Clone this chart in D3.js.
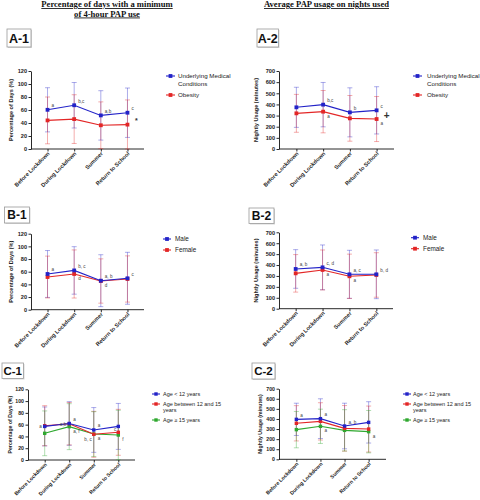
<!DOCTYPE html>
<html><head><meta charset="utf-8">
<script src="https://cdn.jsdelivr.net/npm/d3@7"></script>
<style>body{margin:0;background:#fff}svg{display:block}</style>
</head><body>
<svg id="chart" width="480" height="500"></svg>
<script>
// ---------- DATA ----------
const categories = ["Before Lockdown", "During Lockdown", "Summer", "Return to School"];
const pctTicks = [0, 20, 40, 60, 80, 100, 120];
const minTicks = [0, 100, 200, 300, 400, 500, 600, 700];

// A-1 (% days >= 4h)
const a1Medical = [60.3, 67.3, 51.7, 55.8];
const a1MedicalSD = [34, 35, 38, 38];
const a1Obesity = [44, 46, 36.5, 37.5];
const a1ObesitySD = [36, 37.5, 36, 38];
// A-2 (minutes)
const a2Medical = [374, 398, 329, 347];
const a2MedicalSD = [180, 199, 220, 212];
const a2Obesity = [320, 335, 275, 269];
const a2ObesitySD = [170, 190, 205, 202];
// B-1
const b1Male = [56.4, 62, 45.8, 49.6];
const b1MaleSD = [37, 37.5, 41, 41];
const b1Female = [51.6, 56.4, 45.3, 48.5];
const b1FemaleSD = [33, 38, 35, 36.5];
// B-2
const b2Male = [364, 379, 315, 315];
const b2MaleSD = [177, 205, 220, 223];
const b2Female = [324, 355, 297, 309];
const b2FemaleSD = [172, 183, 203, 204];
// C-1
const c1Under12 = [57, 62, 51, 57];
const c1Under12SD = [33, 37, 38, 39];
const c1Age12to15 = [58.2, 61.6, 43.6, 47];
const c1Age12to15SD = [34, 36, 39, 39];
const c1Over15 = [45.3, 56.6, 44, 42.4];
const c1Over15SD = [38, 39, 38, 42];
// C-2
const c2Under12 = [396, 403, 330, 366];
const c2Under12SD = [160, 197, 226, 205];
const c2Age12to15 = [357, 376, 307, 300];
const c2Age12to15SD = [175, 185, 226, 228];
const c2Over15 = [294, 327, 287, 274];
const c2Over15SD = [180, 170, 205, 210];

// significance letters: [series index, category index, text, placement]
const a1Notes = [[0,0,"a","up"],[0,1,"b,c","up"],[0,2,"a,b","up"],[0,3,"c","up"]];
const a2Notes = [[0,1,"b,c","up"],[1,1,"a","down"],[0,2,"b","up"],[0,3,"c","up"],[1,3,"a","down"]];
const b1Notes = [[0,0,"a","up"],[0,1,"b, c","up"],[1,1,"d","down"],[0,2,"a, b","up"],[1,2,"d","down"],[0,3,"c","up"]];
const b2Notes = [[0,0,"a, b","up"],[0,1,"c, d","up"],[1,1,"a","down"],[0,2,"a, c","up"],[1,2,"a","down"],[0,3,"b, d","up"]];
const c1Notes = [[1,0,"a","left"],[1,1,"a","up"],[1,1,"a,b","left"],[2,1,"a, f","down"],[0,2,"a","up"],[2,2,"b, c","leftdown"],[2,2,"a","down"],[1,3,"c","leftup"],[2,3,"f","down"]];
const c2Notes = [[0,0,"a","up"],[0,1,"a","up"],[2,1,"a","down"],[0,2,"a, b","up"],[2,3,"a","down"]];

const titleLeft = ["Percentage of days with a minimum", "of 4-hour PAP use"];
const titleRight = ["Average PAP usage on nights used"];

// ---------- DRAW ----------
const svg = d3.select("#chart");
const BLUE = "#2323c8", RED = "#e32626", GREEN = "#2fa82f";
const FONT = "Liberation Sans, Arial, sans-serif";

function title(lines, cx) {
  lines.forEach((t, i) => {
    svg.append("text").attr("x", cx).attr("y", 7 + i * 9.5)
      .attr("text-anchor", "middle")
      .attr("font-family", "Liberation Serif, Times New Roman, serif")
      .attr("font-weight", "bold").attr("font-size", 8.6)
      .attr("text-decoration", "underline").attr("fill", "#111").text(t);
  });
}
title(titleLeft, 107);
title(titleRight, 326.5);

function labelBox(txt, x, y, w, h, fs) {
  svg.append("rect").attr("x", x + 1).attr("y", y + 1).attr("width", w).attr("height", h)
    .attr("fill", "#d8d8d8");
  svg.append("rect").attr("x", x).attr("y", y).attr("width", w).attr("height", h)
    .attr("fill", "#fff").attr("stroke", "#9a9a9a").attr("stroke-width", 0.8);
  svg.append("text").attr("x", x + w / 2).attr("y", y + h / 2 + fs * 0.36)
    .attr("text-anchor", "middle").attr("font-family", FONT).attr("font-weight", "bold")
    .attr("font-size", fs).attr("fill", "#111").text(txt);
}

function panel(cfg) {
  const g = svg.append("g");
  const x = d3.scalePoint().domain(categories).range([cfg.x0, cfg.x1]).padding(cfg.pad);
  const y = d3.scaleLinear().domain([0, cfg.ymax]).range([cfg.yb, cfg.yt]);

  // y axis
  const ya = g.append("g").attr("transform", `translate(${cfg.x0},0)`)
    .call(d3.axisLeft(y).tickValues(cfg.ticks).tickSize(2.5).tickPadding(1.5).tickSizeOuter(0));
  ya.selectAll("text").attr("font-family", FONT).attr("font-size", cfg.tfs).attr("font-weight", "bold").attr("fill", "#222");
  ya.selectAll("line,path").attr("stroke", "#111").attr("stroke-width", 0.9);
  // x axis
  const xa = g.append("g").attr("transform", `translate(0,${cfg.yb})`)
    .call(d3.axisBottom(x).tickSize(2.5).tickSizeOuter(0));
  xa.select("path").attr("d", `M${cfg.x0},0H${cfg.x1}`);
  xa.selectAll("line,path").attr("stroke", "#111").attr("stroke-width", 0.9);
  xa.selectAll("text").attr("font-family", FONT).attr("font-size", cfg.tfs).attr("font-weight", "bold")
    .attr("fill", "#222").attr("text-anchor", "end").attr("dy", 0)
    .attr("transform", "translate(2,5) rotate(-45)").attr("y", 0).attr("x", 0);

  // y title
  g.append("text").attr("transform", `translate(${cfg.ytx},${(cfg.yb + cfg.yt) / 2}) rotate(-90)`)
    .attr("text-anchor", "middle").attr("font-family", FONT).attr("font-weight", "bold")
    .attr("font-size", cfg.tfs).attr("fill", "#222").text(cfg.ytitle);

  // error bars
  cfg.series.forEach(s => {
    const col = d3.color(s.color); col.opacity = 0.42;
    s.values.forEach((v, i) => {
      const cx = x(categories[i]);
      const hi = y(v + s.sd[i]), lo = y(Math.max(0, v - s.sd[i]));
      const eb = g.append("g").attr("stroke", col.toString()).attr("stroke-width", 0.9);
      eb.append("line").attr("x1", cx).attr("x2", cx).attr("y1", hi).attr("y2", lo);
      eb.append("line").attr("x1", cx - 2.5).attr("x2", cx + 2.5).attr("y1", hi).attr("y2", hi);
      eb.append("line").attr("x1", cx - 2.5).attr("x2", cx + 2.5).attr("y1", lo).attr("y2", lo);
    });
  });
  // lines and markers (draw last series first so first is on top)
  cfg.series.slice().reverse().forEach(s => {
    const line = d3.line().x((d, i) => x(categories[i])).y(d => y(d));
    g.append("path").datum(s.values).attr("d", line).attr("fill", "none")
      .attr("stroke", s.color).attr("stroke-width", 1.1);
    g.selectAll(null).data(s.values).enter().append("rect")
      .attr("x", (d, i) => x(categories[i]) - cfg.ms / 2).attr("y", d => y(d) - cfg.ms / 2)
      .attr("width", cfg.ms).attr("height", cfg.ms).attr("fill", s.color);
  });
  // notes
  const off = {up: [4, -2.5, "start"], down: [4, 6, "start"], left: [-3, 2, "end"],
               leftdown: [-2, 7, "end"], leftup: [-2, -1.5, "end"]};
  cfg.notes.forEach(n => {
    const s = cfg.series[n[0]], o = off[n[3]];
    g.append("text").attr("x", x(categories[n[1]]) + o[0]).attr("y", y(s.values[n[1]]) + o[1])
      .attr("text-anchor", o[2]).attr("font-family", FONT).attr("font-size", 4.6)
      .attr("fill", "#444").text(n[2]);
  });
  if (cfg.mark) {
    const last = categories[3];
    const mid = d3.mean(cfg.series, s => s.values[3]);
    g.append("text").attr("x", x(last) + cfg.mark.dx).attr("y", y(mid) + cfg.mark.dy)
      .attr("text-anchor", "middle").attr("font-family", FONT).attr("font-weight", "bold")
      .attr("font-size", cfg.mark.fs).attr("fill", "#333").text(cfg.mark.t);
  }
  // legend
  cfg.series.forEach((s, i) => {
    const ly = cfg.leg.ys[i];
    g.append("line").attr("x1", cfg.leg.x0).attr("x2", cfg.leg.x1).attr("y1", ly).attr("y2", ly)
      .attr("stroke", s.color).attr("stroke-width", 1.1);
    g.append("rect").attr("x", (cfg.leg.x0 + cfg.leg.x1) / 2 - cfg.ms / 2).attr("y", ly - cfg.ms / 2)
      .attr("width", cfg.ms).attr("height", cfg.ms).attr("fill", s.color);
    s.name.forEach((t, k) => {
      g.append("text").attr("x", cfg.leg.tx).attr("y", ly + cfg.leg.fs * 0.36 + k * cfg.leg.lh)
        .attr("font-family", FONT).attr("font-size", cfg.leg.fs).attr("fill", "#222").text(t);
    });
  });
}

// A row
labelBox("A-1", 7, 29, 24, 18, 12.5);
labelBox("A-2", 257, 29, 21.5, 18, 12.5);
panel({x0: 31, x1: 144, pad: 0.62, yb: 149, yt: 71, ymax: 120, ticks: pctTicks, tfs: 5.6, ytx: 13,
  ytitle: "Percentage of Days (%)", ms: 3.8,
  series: [{values: a1Medical, sd: a1MedicalSD, color: BLUE, name: ["Underlying Medical", "Conditions"]},
           {values: a1Obesity, sd: a1ObesitySD, color: RED, name: ["Obesity"]}],
  notes: a1Notes, mark: {t: "*", dx: 9, dy: 4, fs: 7},
  leg: {x0: 166, x1: 175, tx: 178, ys: [76, 95], fs: 6.2, lh: 8}});
panel({x0: 279, x1: 394, pad: 0.65, yb: 149, yt: 71, ymax: 700, ticks: minTicks, tfs: 5.6, ytx: 258,
  ytitle: "Nightly Usage (minutes)", ms: 3.8,
  series: [{values: a2Medical, sd: a2MedicalSD, color: BLUE, name: ["Underlying Medical", "Conditions"]},
           {values: a2Obesity, sd: a2ObesitySD, color: RED, name: ["Obesity"]}],
  notes: a2Notes, mark: {t: "+", dx: 10, dy: 4, fs: 10},
  leg: {x0: 413, x1: 422, tx: 427, ys: [76, 95], fs: 6.2, lh: 8}});

// B row
labelBox("B-1", 4.5, 207, 25, 16, 12);
labelBox("B-2", 249, 208, 25, 15.5, 12);
panel({x0: 31, x1: 144, pad: 0.62, yb: 309.7, yt: 233.7, ymax: 120, ticks: pctTicks, tfs: 5.6, ytx: 13,
  ytitle: "Percentage of Days (%)", ms: 3.8,
  series: [{values: b1Male, sd: b1MaleSD, color: BLUE, name: ["Male"]},
           {values: b1Female, sd: b1FemaleSD, color: RED, name: ["Female"]}],
  notes: b1Notes,
  leg: {x0: 163, x1: 171, tx: 175, ys: [239, 250], fs: 6.4, lh: 8}});
panel({x0: 279, x1: 393, pad: 0.62, yb: 308.7, yt: 232.3, ymax: 700, ticks: minTicks, tfs: 5.6, ytx: 258,
  ytitle: "Nightly Usage (minutes)", ms: 3.8,
  series: [{values: b2Male, sd: b2MaleSD, color: BLUE, name: ["Male"]},
           {values: b2Female, sd: b2FemaleSD, color: RED, name: ["Female"]}],
  notes: b2Notes,
  leg: {x0: 411, x1: 419, tx: 423, ys: [237.7, 248.7], fs: 6.4, lh: 8}});

// C row
labelBox("C-1", 2, 363, 21.5, 15.5, 11.5);
labelBox("C-2", 252, 363, 23, 16, 11.5);
panel({x0: 28, x1: 135, pad: 0.68, yb: 460, yt: 389.3, ymax: 120, ticks: pctTicks, tfs: 5.2, ytx: 12,
  ytitle: "Percentage of Days (%)", ms: 3.4,
  series: [{values: c1Under12, sd: c1Under12SD, color: BLUE, name: ["Age < 12 years"]},
           {values: c1Age12to15, sd: c1Age12to15SD, color: RED, name: ["Age between 12 and 15", "years"]},
           {values: c1Over15, sd: c1Over15SD, color: GREEN, name: ["Age \u2265 15 years"]}],
  notes: c1Notes,
  leg: {x0: 152, x1: 160, tx: 163, ys: [394, 404, 420], fs: 5.5, lh: 6.5}});
panel({x0: 279, x1: 386, pad: 0.72, yb: 459.3, yt: 388.7, ymax: 700, ticks: minTicks, tfs: 5.2, ytx: 262,
  ytitle: "Nightly Usage (minutes)", ms: 3.4,
  series: [{values: c2Under12, sd: c2Under12SD, color: BLUE, name: ["Age < 12 years"]},
           {values: c2Age12to15, sd: c2Age12to15SD, color: RED, name: ["Age between 12 and 15", "years"]},
           {values: c2Over15, sd: c2Over15SD, color: GREEN, name: ["Age \u2265 15 years"]}],
  notes: c2Notes,
  leg: {x0: 403, x1: 411, tx: 413, ys: [394, 404, 420], fs: 5.5, lh: 6.5}});
</script>
</body></html>
